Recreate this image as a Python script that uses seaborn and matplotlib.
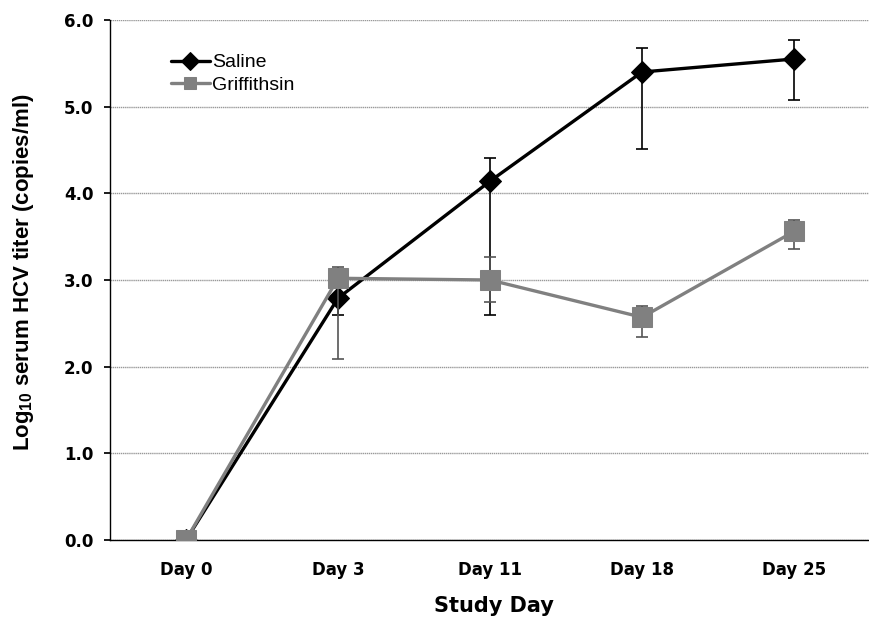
import matplotlib
matplotlib.use("Agg")
import matplotlib.pyplot as plt
import seaborn as sns
import numpy as np
import pandas as pd

days = ["Day 0", "Day 3", "Day 11", "Day 18", "Day 25"]
saline = [0.0, 2.79, 4.14, 5.40, 5.55]
saline_hi = [0.0, 2.95, 4.41, 5.68, 5.77]
saline_lo = [0.0, 2.60, 2.60, 4.51, 5.08]
griff = [0.0, 3.02, 3.00, 2.57, 3.56]
griff_hi = [0.0, 3.15, 3.27, 2.70, 3.69]
griff_lo = [0.0, 2.09, 2.75, 2.34, 3.36]
yticks = [0.0, 1.0, 2.0, 3.0, 4.0, 5.0, 6.0]

sns.set_theme(style="white")
plt.rcParams['font.family'] = ['Liberation Sans', 'DejaVu Sans']
plt.rcParams['mathtext.fontset'] = 'custom'
plt.rcParams['mathtext.rm'] = 'Liberation Sans'
plt.rcParams['mathtext.bf'] = 'Liberation Sans:bold'
for k in ['text.color', 'axes.labelcolor', 'xtick.color', 'ytick.color']:
    plt.rcParams[k] = 'black'

fig = plt.figure(figsize=(8.7, 6.26), dpi=100)
ax = fig.add_axes([110/870, 1-540/626, 1-110/870, (540-20)/626])

x = np.arange(len(days))
df_s = pd.DataFrame({"x": x, "y": saline})
df_g = pd.DataFrame({"x": x, "y": griff})

ax.errorbar(x, saline, yerr=[np.array(saline) - np.array(saline_lo), np.array(saline_hi) - np.array(saline)],
            fmt='none', ecolor='black', elinewidth=1.2, capsize=4, capthick=1.2, zorder=2)
sns.lineplot(data=df_s, x="x", y="y", ax=ax, color="black", marker="D", markersize=11,
             linewidth=2.4, markeredgecolor="black", label="Saline", zorder=3)
ax.errorbar(x, griff, yerr=[np.array(griff) - np.array(griff_lo), np.array(griff_hi) - np.array(griff)],
            fmt='none', ecolor='#555555', elinewidth=1.2, capsize=4, capthick=1.2, zorder=4)
sns.lineplot(data=df_g, x="x", y="y", ax=ax, color="#808080", marker="s", markersize=14,
             linewidth=2.4, markeredgecolor="#808080", label="Griffithsin", zorder=5)

ax.set_xlim(-0.5, 4.45)
ax.set_ylim(0, 6.0)
ax.set_yticks(yticks)
ax.set_yticklabels([f"{v:.1f}" for v in yticks], fontsize=12, fontweight='bold', family='DejaVu Sans')
ax.set_xticks(x)
ax.set_xticklabels(days, fontsize=12, fontweight='bold', family='DejaVu Sans')
ax.set_xticks(np.arange(-0.5, 4.6, 1.0), minor=True)
ax.tick_params(axis='x', which='major', length=0, pad=15)
ax.tick_params(axis='x', which='minor', length=4, direction='out', color='black')
ax.tick_params(axis='y', which='major', length=4, direction='out', color='black', left=True, pad=8)

ax.grid(axis='y', color='#999999', linewidth=1.0, linestyle=(0, (1, 0.5)))
ax.set_axisbelow(True)
for s in ['top', 'right']:
    ax.spines[s].set_visible(False)
for s in ['left', 'bottom']:
    ax.spines[s].set_color('black')
    ax.spines[s].set_linewidth(1.0)

ax.set_xlabel("Study Day", fontsize=15, fontweight='bold', family='DejaVu Sans')
ax.xaxis.set_label_coords(0.505, -0.108)
ax.set_ylabel(r"Log$_{\mathbf{10}}$ serum HCV titer (copies/ml)", fontsize=16, fontweight='bold')
ax.yaxis.set_label_coords(-0.097, 0.515)

leg = ax.legend(loc='upper left', bbox_to_anchor=(0.07, 0.95), frameon=False, fontsize=14,
                handlelength=2.0, handletextpad=0.1, borderaxespad=0.0, labelspacing=0.25)
for h in leg.legend_handles:
    h.set_markersize(9)

fig.savefig("out.png", dpi=100, facecolor="white")
